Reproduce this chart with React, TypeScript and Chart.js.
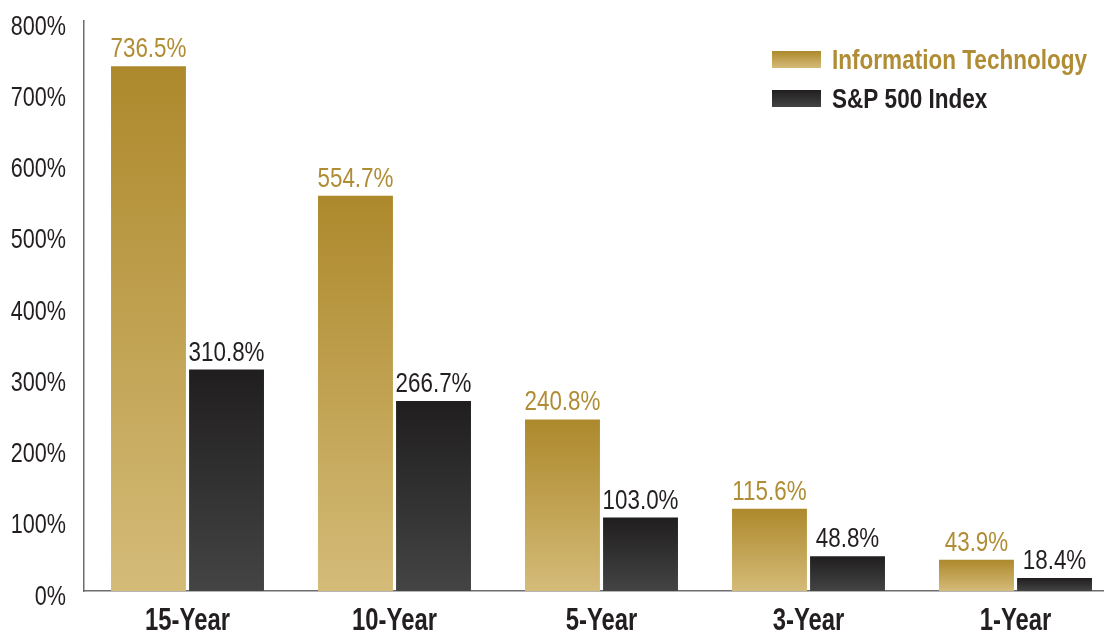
import React, { useEffect, useRef } from "react";
import { Chart, registerables } from "chart.js";

Chart.register(...registerables);

const categories = ["15-Year", "10-Year", "5-Year", "3-Year", "1-Year"];
const itValues = [736.5, 554.7, 240.8, 115.6, 43.9];
const spValues = [310.8, 266.7, 103.0, 48.8, 18.4];
const seriesNames = ["Information Technology", "S&P 500 Index"];
const yTicks = [0, 100, 200, 300, 400, 500, 600, 700, 800];

const FONT = "'Liberation Sans', Arial, sans-serif";
const GOLD_TOP = "#ad892c";
const GOLD_BOTTOM = "#d4bb78";
const DARK_TOP = "#201e1f";
const DARK_BOTTOM = "#444444";
const GOLD_TEXT = "#b08d35";
const DARK_TEXT = "#231f20";

function gradientFill(top: string, bottom: string) {
  return (ctx: any) => {
    const chart = ctx.chart;
    const { chartArea, scales } = chart;
    if (!chartArea || !scales || !scales.y || ctx.type !== "data") return top;
    const v = ctx.raw as number;
    const yTop = scales.y.getPixelForValue(v);
    const yBot = scales.y.getPixelForValue(0);
    if (!isFinite(yTop) || !isFinite(yBot) || yTop === yBot) return top;
    const g = chart.ctx.createLinearGradient(0, yTop, 0, yBot);
    g.addColorStop(0, top);
    g.addColorStop(1, bottom);
    return g;
  };
}

// Draw text horizontally compressed to emulate a condensed typeface.
function condensedText(
  ctx: CanvasRenderingContext2D,
  text: string,
  x: number,
  y: number,
  font: string,
  color: string,
  sx: number,
  align: CanvasTextAlign
) {
  ctx.save();
  ctx.font = font;
  ctx.fillStyle = color;
  ctx.textAlign = align;
  ctx.textBaseline = "alphabetic";
  ctx.translate(x, y);
  ctx.scale(sx, 1);
  ctx.fillText(text, 0, 0);
  ctx.restore();
}

const textPlugin = {
  id: "textLayer",
  afterDraw(chart: any) {
    const ctx = chart.ctx as CanvasRenderingContext2D;
    const xs = chart.scales.x;
    const ys = chart.scales.y;
    const area = chart.chartArea;

    // y tick labels
    yTicks.forEach((v) => {
      const py = ys.getPixelForValue(v);
      condensedText(ctx, `${v}%`, area.left - 18, py + 13.5, `27px ${FONT}`, DARK_TEXT, 0.8, "right");
    });

    // x category labels
    categories.forEach((c, i) => {
      const px = xs.getPixelForValue(i);
      condensedText(ctx, c, px, area.bottom + 39, `bold 31px ${FONT}`, DARK_TEXT, 0.77, "center");
    });

    // value labels
    chart.data.datasets.forEach((ds: any, di: number) => {
      const meta = chart.getDatasetMeta(di);
      meta.data.forEach((bar: any, i: number) => {
        const v = ds.data[i] as number;
        condensedText(
          ctx,
          v.toFixed(1) + "%",
          bar.x,
          bar.y - 9,
          `28px ${FONT}`,
          di === 0 ? GOLD_TEXT : DARK_TEXT,
          0.8,
          "center"
        );
      });
    });

    // legend
    const boxX = area.left + 688;
    const rows = [
      { y: area.top + 30, top: GOLD_TOP, bottom: GOLD_BOTTOM, text: GOLD_TEXT },
      { y: area.top + 69, top: DARK_TOP, bottom: DARK_BOTTOM, text: DARK_TEXT },
    ];
    rows.forEach((r, i) => {
      ctx.save();
      const g = ctx.createLinearGradient(0, r.y, 0, r.y + 17);
      g.addColorStop(0, r.top);
      g.addColorStop(1, r.bottom);
      ctx.fillStyle = g;
      ctx.fillRect(boxX, r.y, 49, 17);
      ctx.restore();
      condensedText(ctx, seriesNames[i], boxX + 60, r.y + 18, `bold 27px ${FONT}`, r.text, 0.835, "left");
    });
  },
};

export default function App() {
  const ref = useRef<HTMLCanvasElement | null>(null);

  useEffect(() => {
    if (!ref.current) return;
    const chart = new Chart(ref.current, {
      type: "bar",
      data: {
        labels: categories,
        datasets: [
          {
            label: seriesNames[0],
            data: itValues,
            backgroundColor: gradientFill(GOLD_TOP, GOLD_BOTTOM),
            barPercentage: 0.96,
            categoryPercentage: 0.754,
          },
          {
            label: seriesNames[1],
            data: spValues,
            backgroundColor: gradientFill(DARK_TOP, DARK_BOTTOM),
            barPercentage: 0.96,
            categoryPercentage: 0.754,
          },
        ],
      },
      options: {
        responsive: false,
        animation: false,
        layout: { padding: { top: 21, left: 0, right: 0, bottom: 0 } },
        plugins: {
          legend: { display: false },
          tooltip: { enabled: false },
        },
        scales: {
          x: {
            grid: { display: false, drawTicks: false },
            border: { display: true, color: "#6d6d6d", width: 1.5 },
            ticks: { display: false },
            afterFit: (s: any) => {
              s.height = 41;
            },
          },
          y: {
            min: 0,
            max: 800,
            grid: { display: false, drawTicks: false },
            border: { display: true, color: "#6d6d6d", width: 1.5 },
            afterBuildTicks: (s: any) => {
              s.ticks = yTicks.map((v) => ({ value: v }));
            },
            ticks: { display: false },
            afterFit: (s: any) => {
              s.width = 84;
            },
          },
        },
      },
      plugins: [textPlugin],
    });
    return () => chart.destroy();
  }, []);

  return (
    <div
      style={{
        position: "fixed",
        left: 0,
        top: 0,
        width: 1104,
        height: 632,
        overflow: "hidden",
        background: "#fff",
      }}
    >
      <canvas ref={ref} width={1119} height={632} style={{ width: 1119, height: 632, display: "block" }} />
    </div>
  );
}
